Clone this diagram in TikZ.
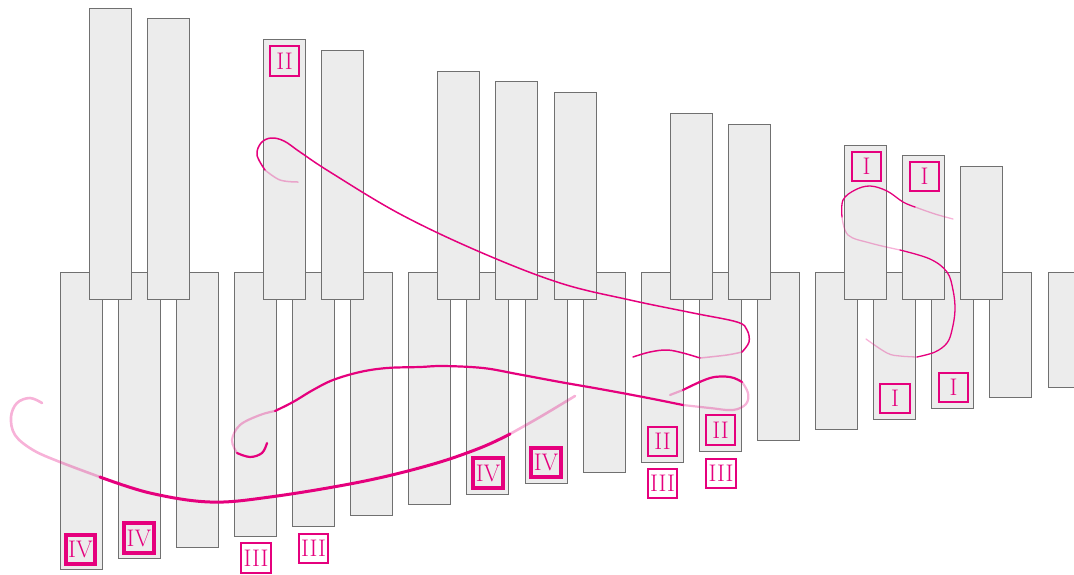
\documentclass[tikz,border=0pt]{standalone}
\usepackage{tikz}
\definecolor{mag}{HTML}{E5007D}
\definecolor{keyfill}{HTML}{ECECEC}
\definecolor{keyline}{HTML}{707070}
\tikzset{
  key/.style={fill=keyfill, draw=keyline, line width=0.9pt},
  lab/.style={draw=mag, line width=2.2pt, minimum size=29.5pt, inner sep=0pt, text=mag,
              font=\fontsize{24}{24}\selectfont},
  labthick/.style={lab, line width=3.6pt},
  strongA/.style={draw=mag, line width=1.5pt, line cap=round},
  lightA/.style={strongA, draw opacity=0.3},
  strongB/.style={draw=mag, line width=2.2pt, line cap=round},
  lightB/.style={strongB, draw opacity=0.3},
  strongD/.style={draw=mag, line width=3pt, line cap=round},
  lightD/.style={strongD, line width=2.6pt, draw opacity=0.3},
  strongE/.style={draw=mag, line width=1.3pt, line cap=round},
  lightE/.style={strongE, draw opacity=0.3},
}
\begin{document}
\begin{tikzpicture}[x=1pt, y=-1pt]
\useasboundingbox (0,0) rectangle (1074,574);
\clip (0,0) rectangle (1074,574);
% white (lower) keys
\foreach \i in {0,...,17}{
  \path[key] ({60+58.12*\i},272) rectangle ({102+58.12*\i},{569-10.7*\i});
}
% black (upper) keys
\foreach \k in {0,1,3,4,6,7,8,10,11,13,14,15}{
  \path[key] ({89+58.12*\k},{8+10.55*\k}) rectangle ({131+58.12*\k},299);
}
% curve A (thin, upper)
\draw[lightA] plot[smooth, tension=0.6] coordinates {(298,182) (280,180) (265,170)};
\draw[strongA] plot[smooth, tension=0.6] coordinates {(265,170) (257,155) (261,143) (271,138) (284,141) (300,152) (330,172) (400,214) (480,252) (560,283) (630,300) (693,313) (737,322) (747,330) (749,342) (742,352)};
\draw[lightA] plot[smooth, tension=0.6] coordinates {(742,352) (727,355) (700,358)};
\draw[strongA] plot[smooth, tension=0.6] coordinates {(700,358) (683,353) (667,350) (650,352) (633,357)};
% curve B (medium)
\draw[strongB] plot[smooth, tension=0.6] coordinates {(267,443) (262,453) (250,457) (237,453)};
\draw[lightB] plot[smooth, tension=0.6] coordinates {(237,453) (232,440) (240,425) (260,415) (275,411)};
\draw[strongB] plot[smooth, tension=0.6] coordinates {(275,411) (293,402) (313,390) (333,380) (360,372) (387,368) (420,367) (443,366) (483,368) (517,374) (560,382) (600,389) (643,397) (683,405)};
\draw[lightB] plot[smooth, tension=0.6] coordinates {(683,405) (710,408) (733,410) (746,404) (748,393) (742,382)};
\draw[strongB] plot[smooth, tension=0.6] coordinates {(742,382) (730,377) (710,378) (683,390)};
\draw[lightB] plot[smooth, tension=0.6] coordinates {(683,390) (670,395)};
% curve D (thick, lower)
\draw[lightD] plot[smooth, tension=0.6] coordinates {(42,403) (30,398) (17,403) (11,417) (15,435) (33,450) (60,462) (100,477)};
\draw[strongD] plot[smooth, tension=0.6] coordinates {(100,477) (150,493) (210,502) (270,497) (360,482) (430,465) (480,448) (510,434)};
\draw[lightD] plot[smooth, tension=0.6] coordinates {(510,434) (540,417) (575,396)};
% curve E (thin, right)
\draw[lightE] plot[smooth, tension=0.6] coordinates {(953,219) (935,214) (915,207)};
\draw[strongE] plot[smooth, tension=0.6] coordinates {(915,207) (903,202) (887,191) (870,186) (855,190) (843,200) (842,217)};
\draw[lightE] plot[smooth, tension=0.6] coordinates {(842,217) (848,235) (870,243) (900,250)};
\draw[strongE] plot[smooth, tension=0.6] coordinates {(900,250) (930,259) (947,272) (953,290) (955,310) (952,330) (947,343) (935,352) (917,357)};
\draw[lightE] plot[smooth, tension=0.6] coordinates {(917,357) (900,356) (887,353) (866,339)};
% labels
\node[labthick] (iv1) at (80.5,549.5) {IV};
\node[labthick] (iv2) at (139,538) {IV};
\node[lab] (iii1) at (256,558) {III};
\node[lab] (iii2) at (313.5,548.5) {III};
\node[labthick] (iv3) at (488,473) {IV};
\node[labthick] (iv4) at (546,462.5) {IV};
\node[lab] (ii1) at (662.5,441.5) {II};
\node[lab] (iii3) at (662.5,483.5) {III};
\node[lab] (ii2) at (720.5,430) {II};
\node[lab] (iii4) at (721,473.5) {III};
\node[lab] (ii3) at (284.5,61) {II};
\node[lab] (i1) at (866.5,166.5) {I};
\node[lab] (i2) at (924.5,176.5) {I};
\node[lab] (i3) at (895,398.5) {I};
\node[lab] (i4) at (953.5,387.5) {I};
\end{tikzpicture}
\end{document}
